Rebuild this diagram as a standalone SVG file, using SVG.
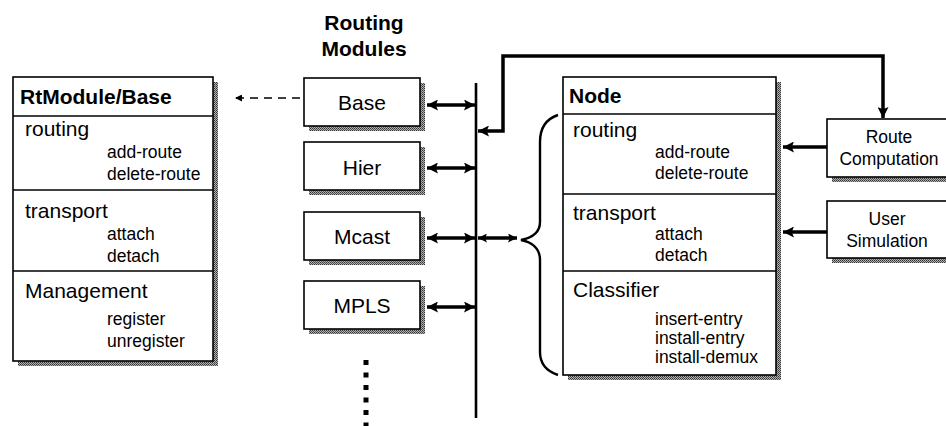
<svg xmlns="http://www.w3.org/2000/svg" width="946" height="426" viewBox="0 0 946 426">
  <defs>
    <pattern id="dither" width="2" height="2" patternUnits="userSpaceOnUse">
      <rect width="2" height="2" fill="#b0b0b0"/>
      <rect width="1" height="1" fill="#333"/>
      <rect x="1" y="1" width="1" height="1" fill="#555"/>
    </pattern>
    <marker id="head" viewBox="0 0 10 10" refX="10" refY="5" markerWidth="12" markerHeight="11" markerUnits="userSpaceOnUse" orient="auto-start-reverse">
      <path d="M0,0 L10,5 L0,10 L2,5 Z" fill="#000"/>
    </marker>
    <marker id="headSmall" viewBox="0 0 10 10" refX="10" refY="5" markerWidth="10" markerHeight="9" markerUnits="userSpaceOnUse" orient="auto-start-reverse">
      <path d="M0,0 L10,5 L0,10 L2,5 Z" fill="#000"/>
    </marker>
    <marker id="headThin" viewBox="0 0 10 10" refX="10" refY="5" markerWidth="9" markerHeight="7" markerUnits="userSpaceOnUse" orient="auto">
      <path d="M0,0 L10,5 L0,10 Z" fill="#000"/>
    </marker>
  </defs>
  <style>
    text { font-family: "Liberation Sans", Arial, sans-serif; fill: #000; }
    .title { font-size: 21px; font-weight: bold; }
    .sect { font-size: 21px; }
    .item { font-size: 17.5px; }
    .mod { font-size: 21px; text-anchor: middle; }
    .ext { font-size: 17.5px; text-anchor: middle; }
    .box { fill: #fff; stroke: #000; stroke-width: 1.6; }
    .shadow { fill: url(#dither); }
    .div { stroke: #000; stroke-width: 1.4; }
    .thick { fill: none; stroke: #000; stroke-width: 3.5; }
  </style>

  <!-- heading -->
  <g id="heading">
    <text class="title" x="364" y="30" text-anchor="middle">Routing</text>
    <text class="title" x="364" y="56" text-anchor="middle">Modules</text>
  </g>

  <!-- RtModule/Base class box -->
  <g id="rtmodule-base">
    <rect class="shadow" x="18" y="82" width="200" height="284"/>
    <rect class="box" x="13" y="77" width="200" height="284"/>
    <line class="div" x1="13" y1="116" x2="213" y2="116"/>
    <line class="div" x1="13" y1="190" x2="213" y2="190"/>
    <line class="div" x1="13" y1="271" x2="213" y2="271"/>
    <text class="title" x="20" y="104">RtModule/Base</text>
    <text class="sect" x="25" y="136">routing</text>
    <text class="item" x="107" y="158">add-route</text>
    <text class="item" x="107" y="180">delete-route</text>
    <text class="sect" x="25" y="218">transport</text>
    <text class="item" x="107" y="240">attach</text>
    <text class="item" x="107" y="262">detach</text>
    <text class="sect" x="25" y="298">Management</text>
    <text class="item" x="107" y="325">register</text>
    <text class="item" x="107" y="347">unregister</text>
  </g>

  <!-- routing modules -->
  <g id="mod-base">
    <rect class="shadow" x="309" y="83" width="116" height="48"/>
    <rect class="box" x="304" y="78" width="116" height="48"/>
    <text class="mod" x="362" y="110">Base</text>
  </g>
  <g id="mod-hier">
    <rect class="shadow" x="309" y="147" width="116" height="48"/>
    <rect class="box" x="304" y="142" width="116" height="48"/>
    <text class="mod" x="362" y="175">Hier</text>
  </g>
  <g id="mod-mcast">
    <rect class="shadow" x="309" y="217" width="116" height="48"/>
    <rect class="box" x="304" y="212" width="116" height="48"/>
    <text class="mod" x="362" y="244">Mcast</text>
  </g>
  <g id="mod-mpls">
    <rect class="shadow" x="309" y="286" width="116" height="48"/>
    <rect class="box" x="304" y="281" width="116" height="48"/>
    <text class="mod" x="362" y="313">MPLS</text>
  </g>

  <!-- Node class box -->
  <g id="node">
    <rect class="shadow" x="568" y="82" width="213" height="298"/>
    <rect class="box" x="563" y="77" width="213" height="298"/>
    <line class="div" x1="563" y1="114" x2="776" y2="114"/>
    <line class="div" x1="563" y1="194" x2="776" y2="194"/>
    <line class="div" x1="563" y1="271" x2="776" y2="271"/>
    <text class="title" x="569" y="103">Node</text>
    <text class="sect" x="573" y="137">routing</text>
    <text class="item" x="655" y="158">add-route</text>
    <text class="item" x="655" y="179">delete-route</text>
    <text class="sect" x="573" y="220">transport</text>
    <text class="item" x="655" y="240">attach</text>
    <text class="item" x="655" y="261">detach</text>
    <text class="sect" x="573" y="297">Classifier</text>
    <text class="item" x="655" y="325">insert-entry</text>
    <text class="item" x="655" y="344">install-entry</text>
    <text class="item" x="655" y="363">install-demux</text>
  </g>

  <!-- external drivers -->
  <g id="route-computation">
    <rect class="shadow" x="832" y="124" width="130" height="58"/>
    <rect class="box" x="827" y="119" width="130" height="58"/>
    <text class="ext" x="889" y="143">Route</text>
    <text class="ext" x="889" y="165">Computation</text>
  </g>
  <g id="user-simulation">
    <rect class="shadow" x="832" y="206" width="130" height="57"/>
    <rect class="box" x="827" y="201" width="130" height="57"/>
    <text class="ext" x="887" y="225">User</text>
    <text class="ext" x="887" y="247">Simulation</text>
  </g>

  <!-- connectors -->
  <g id="connectors">
    <!-- dispatch bus -->
    <line x1="476" y1="83" x2="476" y2="418" stroke="#000" stroke-width="2.6"/>
    <!-- module to bus -->
    <line class="thick" x1="427" y1="105" x2="475" y2="105" marker-start="url(#head)" marker-end="url(#head)"/>
    <line class="thick" x1="427" y1="168" x2="475" y2="168" marker-start="url(#head)" marker-end="url(#head)"/>
    <line class="thick" x1="427" y1="238" x2="475" y2="238" marker-start="url(#head)" marker-end="url(#head)"/>
    <line class="thick" x1="427" y1="307" x2="475" y2="307" marker-start="url(#head)" marker-end="url(#head)"/>
    <!-- bus to node brace -->
    <line class="thick" x1="478" y1="238" x2="517" y2="238" stroke-width="3" marker-start="url(#headSmall)" marker-end="url(#headSmall)"/>
    <!-- Base inherits from RtModule/Base -->
    <line x1="300" y1="98" x2="235" y2="98" stroke="#000" stroke-width="1.5" stroke-dasharray="8 6" marker-end="url(#headThin)"/>
    <!-- more modules -->
    <line x1="366" y1="360" x2="366" y2="426" stroke="#000" stroke-width="5" stroke-dasharray="5 7.5"/>
    <!-- route computation loop back to bus -->
    <path class="thick" d="M883,118 V56 H503 V131 H478" marker-start="url(#head)" marker-end="url(#head)"/>
    <!-- drivers into node -->
    <line class="thick" x1="827" y1="147" x2="783" y2="147" marker-end="url(#head)"/>
    <line class="thick" x1="827" y1="232" x2="783" y2="232" marker-end="url(#head)"/>
    <!-- brace grouping the node interface -->
    <path d="M558,115 C546,119 540,128 540,142 V222 C540,233 531,238 521,240 C531,242 540,248 540,260 V352 C540,364 546,371 558,375" fill="none" stroke="#000" stroke-width="2.4"/>
  </g>
</svg>
